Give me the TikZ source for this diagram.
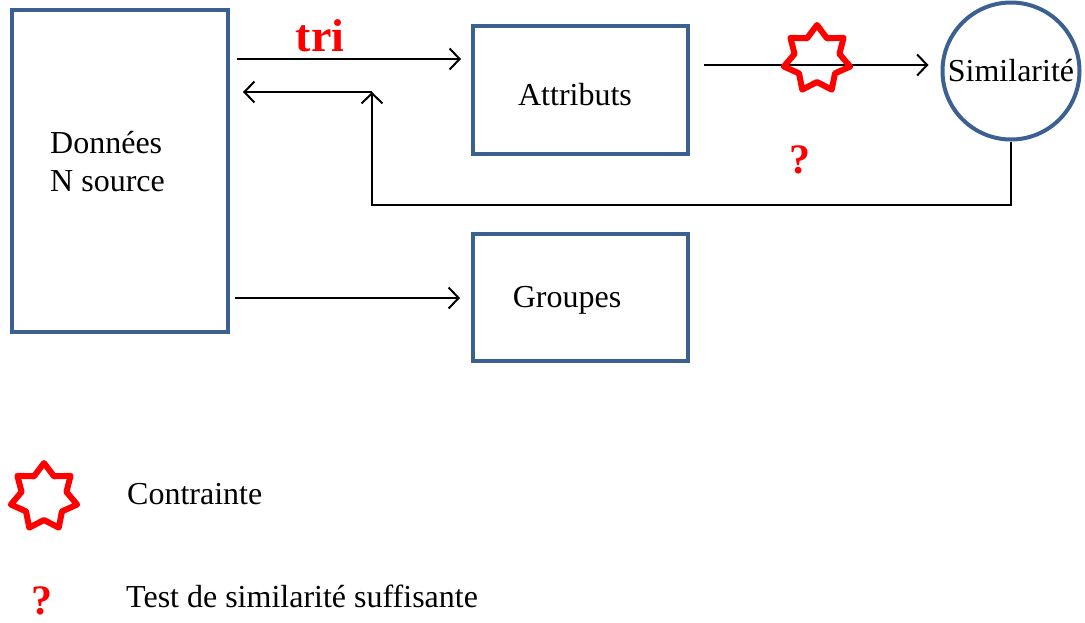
\documentclass[tikz,border=0pt]{standalone}
\usepackage{fontspec}
\setmainfont{Liberation Serif}
\usetikzlibrary{arrows.meta}
\definecolor{boxblue}{RGB}{60,96,144}
\tikzset{
  box/.style={draw=boxblue, line width=4pt, rectangle, inner sep=0pt},
  txt/.style={inner sep=0pt, font=\rmfamily\fontsize{32}{38}\selectfont},
  redmark/.style={inner sep=0pt, text=red, font=\rmfamily\bfseries\fontsize{42}{46}\selectfont},
  conn/.style={line width=2pt, -{Straight Barb[length=10pt,width=21pt,line width=2pt]}},
  heptastar/.pic={\draw[red, line width=6pt, line join=round]
     (-90:34) \foreach \k in {1,...,13} {-- ({-90+\k*360/14}:{mod(\k,2)==1 ? 23 : 34})} -- cycle;}
}
\begin{document}
\begin{tikzpicture}[x=1pt,y=-1pt]
\useasboundingbox (0,0) rectangle (1085,622);
% boxes
\node[box, minimum width=216pt, minimum height=322pt] (don) at (120,171) {};
\node[txt, anchor=west, align=left] (dontxt) at (50,162) {Données\\N source};
\node[box, minimum width=215pt, minimum height=128pt] (attr) at (580.5,90) {};
\node[txt] (attrtxt) at (575,95) {Attributs};
\node[box, minimum width=215pt, minimum height=127pt] (grp) at (580.5,297.5) {};
\node[txt] (grptxt) at (567,300) {Groupes};
\node[draw=boxblue, line width=4pt, circle, minimum size=137pt, inner sep=0pt, txt] (sim) at (1011,71) {Similarité};
% connectors
\draw[conn, shorten <=7pt, shorten >=10pt] (don.east |- 0,59) -- (attr.west |- 0,59);
\node[redmark, font=\rmfamily\bfseries\fontsize{46}{50}\selectfont] (tri) at (320,36) {tri};
\draw[conn, shorten <=14pt, shorten >=12pt] (attr.east |- 0,65) -- (sim.west |- 0,65);
\pic at (817,59) {heptastar};
\node[redmark] (q1) at (800,160) {?};
\coordinate (ret) at (372,92);
\coordinate (retend) at (243,92);
\draw[conn] (sim.south) -- (sim.south |- 0,205) -| (ret);
\draw[conn] (ret) -- (retend);
\draw[conn, shorten <=5pt, shorten >=11pt] (don.east |- 0,298) -- (grp.west |- 0,298);
% legend
\pic at (44,497) {heptastar};
\node[txt, anchor=west] (leg1) at (127,494) {Contrainte};
\node[redmark] (q2) at (42,601) {?};
\node[txt, anchor=west] (leg2) at (126,596) {Test de similarité suffisante};
\end{tikzpicture}
\end{document}
